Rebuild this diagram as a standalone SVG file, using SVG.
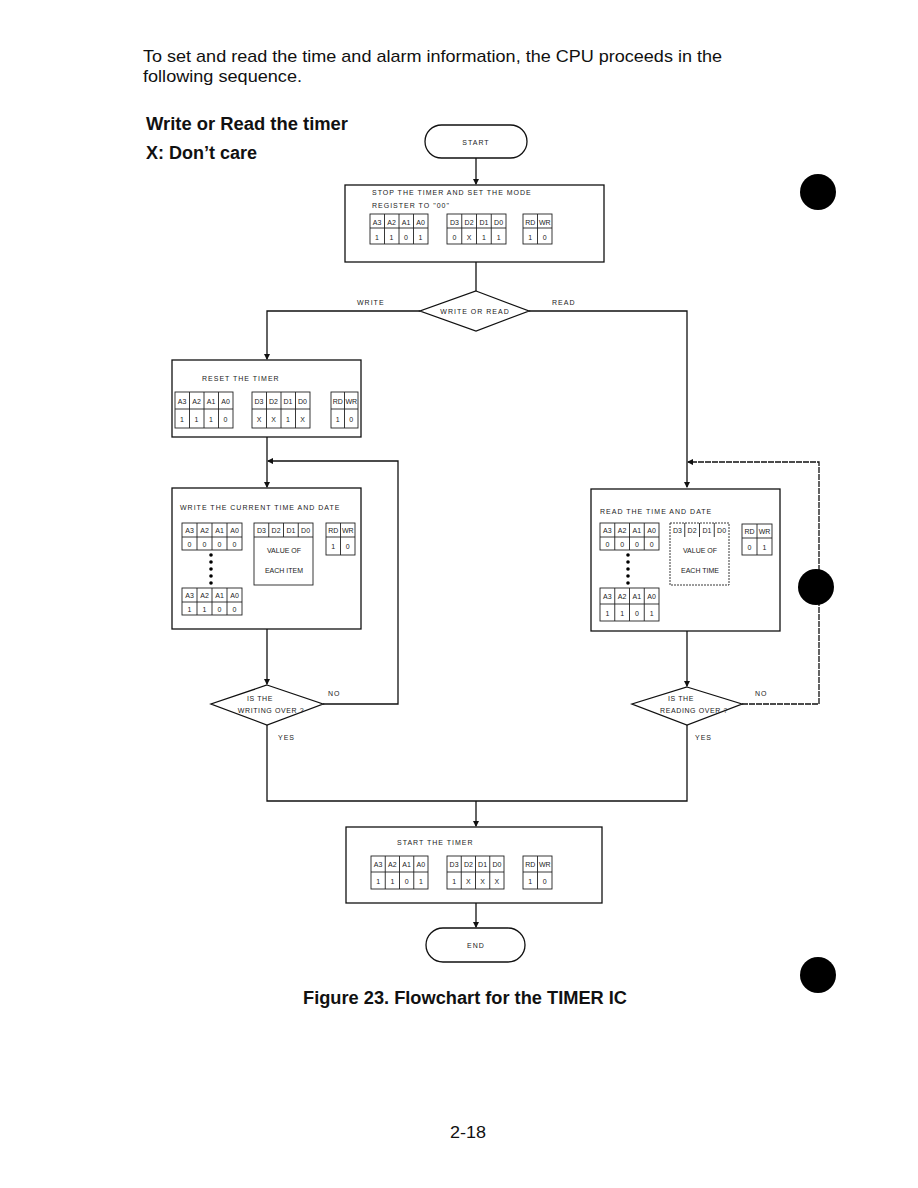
<svg xmlns="http://www.w3.org/2000/svg" width="918" height="1188" viewBox="0 0 918 1188">
<style>
.hd{font-family:"Liberation Sans",Arial,sans-serif;font-size:17px;fill:#111}
.bd{font-family:"Liberation Sans",Arial,sans-serif;font-size:18px;font-weight:bold;fill:#111}
.t{font-family:"Liberation Sans",Arial,sans-serif;font-size:7px;letter-spacing:1px;fill:#222}
.dt{font-family:"Liberation Sans",Arial,sans-serif;font-size:7px;letter-spacing:0.6px;fill:#222;text-anchor:middle}
.c{font-family:"Liberation Sans",Arial,sans-serif;font-size:7px;fill:#222;text-anchor:middle}
.box{fill:#fff;stroke:#111;stroke-width:1.3}
.tb{fill:none;stroke:#222;stroke-width:0.9}
.ln{fill:none;stroke:#111;stroke-width:1.3}
.dot{fill:#000}
</style>
<defs>
<marker id="ar" viewBox="0 0 6 6" refX="5" refY="3" markerWidth="5" markerHeight="5" orient="auto"><path d="M0,0L6,3L0,6z" fill="#111"/></marker>
</defs>
<rect width="918" height="1188" fill="#fff"/>
<text class="hd" x="143" y="62" textLength="579" lengthAdjust="spacingAndGlyphs">To set and read the time and alarm information, the CPU proceeds in the</text>
<text class="hd" x="143" y="82" textLength="159" lengthAdjust="spacingAndGlyphs">following sequence.</text>
<text class="bd" x="146" y="130" textLength="202" lengthAdjust="spacingAndGlyphs">Write or Read the timer</text>
<text class="bd" x="146" y="159" textLength="111" lengthAdjust="spacingAndGlyphs">X: Don’t care</text>

<g id="connectors">
<path class="ln" d="M476,158V184" marker-end="url(#ar)"/>
<path class="ln" d="M476,262V291"/>
<path class="ln" d="M420,311H267V359" marker-end="url(#ar)"/>
<path class="ln" d="M529,311H687V487" marker-end="url(#ar)"/>
<path class="ln" d="M267,437V487" marker-end="url(#ar)"/>
<path class="ln" d="M323,704H398V461H268" marker-end="url(#ar)"/>
<path class="ln" d="M267,629V684" marker-end="url(#ar)"/>
<path class="ln" d="M742,704H819V462H688" marker-end="url(#ar)" stroke-dasharray="6,1"/>
<path class="ln" d="M687,631V686" marker-end="url(#ar)"/>
<path class="ln" d="M267,725V801H687V725"/>
<path class="ln" d="M476,801V826" marker-end="url(#ar)"/>
<path class="ln" d="M476,903V927" marker-end="url(#ar)"/>
<text class="t" x="357" y="305">WRITE</text>
<text class="t" x="552" y="305">READ</text>
<text class="t" x="328" y="696">NO</text>
<text class="t" x="278" y="740">YES</text>
<text class="t" x="755" y="696">NO</text>
<text class="t" x="695" y="740">YES</text>
</g>

<g id="start">
<rect class="box" x="425" y="125" width="102" height="33" rx="16.5"/>
<text class="t" x="476" y="145" text-anchor="middle">START</text>
</g>

<g id="stop-timer">
<rect class="box" x="345" y="185" width="259" height="77"/>
<text class="t" x="372" y="195">STOP THE TIMER AND SET THE MODE</text>
<text class="t" x="372" y="208">REGISTER TO "00"</text>
<rect class="tb" x="370" y="214" width="58" height="30"/><path class="tb" d="M370,228H428M384.5,214V244M399,214V244M413.5,214V244"/>
<text class="c" y="225"><tspan x="377">A3</tspan><tspan x="391.5">A2</tspan><tspan x="406">A1</tspan><tspan x="420.5">A0</tspan></text>
<text class="c" y="240"><tspan x="377">1</tspan><tspan x="391.5">1</tspan><tspan x="406">0</tspan><tspan x="420.5">1</tspan></text>
<rect class="tb" x="447" y="214" width="59" height="30"/><path class="tb" d="M447,228H506M461.75,214V244M476.5,214V244M491.25,214V244"/>
<text class="c" y="225"><tspan x="454.4">D3</tspan><tspan x="469.1">D2</tspan><tspan x="483.9">D1</tspan><tspan x="498.6">D0</tspan></text>
<text class="c" y="240"><tspan x="454.4">0</tspan><tspan x="469.1">X</tspan><tspan x="483.9">1</tspan><tspan x="498.6">1</tspan></text>
<rect class="tb" x="523" y="214" width="29" height="30"/><path class="tb" d="M523,228H552M537.5,214V244"/>
<text class="c" y="225"><tspan x="530.2">RD</tspan><tspan x="544.8">WR</tspan></text>
<text class="c" y="240"><tspan x="530.2">1</tspan><tspan x="544.8">0</tspan></text>
</g>

<g id="decision-write-read">
<polygon class="box" points="476,291 529,311 476,331 420,311"/>
<text class="t" x="475" y="314" text-anchor="middle">WRITE OR READ</text>
</g>

<g id="reset-timer">
<rect class="box" x="172" y="360" width="189" height="77"/>
<text class="t" x="202" y="381">RESET THE TIMER</text>
<rect class="tb" x="175" y="392" width="58" height="36"/><path class="tb" d="M175,409H233M189.5,392V428M204,392V428M218.5,392V428"/>
<text class="c" y="404"><tspan x="182">A3</tspan><tspan x="196.5">A2</tspan><tspan x="211">A1</tspan><tspan x="225.5">A0</tspan></text>
<text class="c" y="422"><tspan x="182">1</tspan><tspan x="196.5">1</tspan><tspan x="211">1</tspan><tspan x="225.5">0</tspan></text>
<rect class="tb" x="252" y="392" width="58" height="36"/><path class="tb" d="M252,409H310M266.5,392V428M281,392V428M295.5,392V428"/>
<text class="c" y="404"><tspan x="259">D3</tspan><tspan x="273.5">D2</tspan><tspan x="288">D1</tspan><tspan x="302.5">D0</tspan></text>
<text class="c" y="422"><tspan x="259">X</tspan><tspan x="273.5">X</tspan><tspan x="288">1</tspan><tspan x="302.5">X</tspan></text>
<rect class="tb" x="331" y="392" width="27" height="36"/><path class="tb" d="M331,409H358M344.5,392V428"/>
<text class="c" y="404"><tspan x="337.7">RD</tspan><tspan x="351.3">WR</tspan></text>
<text class="c" y="422"><tspan x="337.7">1</tspan><tspan x="351.3">0</tspan></text>
</g>

<g id="write-time">
<rect class="box" x="172" y="488" width="189" height="141"/>
<text class="t" x="180" y="510">WRITE THE CURRENT TIME AND DATE</text>
<rect class="tb" x="182" y="523" width="60" height="27"/><path class="tb" d="M182,537H242M197,523V550M212,523V550M227,523V550"/>
<text class="c" y="533"><tspan x="189.5">A3</tspan><tspan x="204.5">A2</tspan><tspan x="219.5">A1</tspan><tspan x="234.5">A0</tspan></text>
<text class="c" y="547"><tspan x="189.5">0</tspan><tspan x="204.5">0</tspan><tspan x="219.5">0</tspan><tspan x="234.5">0</tspan></text>
<circle class="dot" cx="211" cy="555" r="1.8"/><circle class="dot" cx="211" cy="562" r="1.8"/><circle class="dot" cx="211" cy="569" r="1.8"/><circle class="dot" cx="211" cy="576" r="1.8"/><circle class="dot" cx="211" cy="583" r="1.8"/>
<rect class="tb" x="182" y="588" width="60" height="27"/><path class="tb" d="M182,602H242M197,588V615M212,588V615M227,588V615"/>
<text class="c" y="598"><tspan x="189.5">A3</tspan><tspan x="204.5">A2</tspan><tspan x="219.5">A1</tspan><tspan x="234.5">A0</tspan></text>
<text class="c" y="612"><tspan x="189.5">1</tspan><tspan x="204.5">1</tspan><tspan x="219.5">0</tspan><tspan x="234.5">0</tspan></text>
<rect class="tb" x="254" y="523" width="59" height="62"/><path class="tb" d="M254,537H313M268.75,523V537M283.5,523V537M298.25,523V537"/>
<text class="c" y="533"><tspan x="261.4">D3</tspan><tspan x="276.1">D2</tspan><tspan x="290.9">D1</tspan><tspan x="305.6">D0</tspan></text>
<text class="c" x="284" y="553">VALUE OF</text>
<text class="c" x="284" y="573">EACH ITEM</text>
<rect class="tb" x="326" y="523" width="29" height="32"/><path class="tb" d="M326,537H355M340.5,523V555"/>
<text class="c" y="533"><tspan x="333.2">RD</tspan><tspan x="347.8">WR</tspan></text>
<text class="c" y="549"><tspan x="333.2">1</tspan><tspan x="347.8">0</tspan></text>
</g>

<g id="read-time">
<rect class="box" x="591" y="489" width="189" height="142"/>
<text class="t" x="600" y="514">READ THE TIME AND DATE</text>
<rect class="tb" x="600" y="523" width="59" height="27"/><path class="tb" d="M600,537H659M614.75,523V550M629.5,523V550M644.25,523V550"/>
<text class="c" y="533"><tspan x="607.4">A3</tspan><tspan x="622.1">A2</tspan><tspan x="636.9">A1</tspan><tspan x="651.6">A0</tspan></text>
<text class="c" y="547"><tspan x="607.4">0</tspan><tspan x="622.1">0</tspan><tspan x="636.9">0</tspan><tspan x="651.6">0</tspan></text>
<circle class="dot" cx="628" cy="555" r="1.8"/><circle class="dot" cx="628" cy="562" r="1.8"/><circle class="dot" cx="628" cy="569" r="1.8"/><circle class="dot" cx="628" cy="576" r="1.8"/><circle class="dot" cx="628" cy="583" r="1.8"/>
<rect class="tb" x="600" y="588" width="59" height="33"/><path class="tb" d="M600,604H659M614.75,588V621M629.5,588V621M644.25,588V621"/>
<text class="c" y="599"><tspan x="607.4">A3</tspan><tspan x="622.1">A2</tspan><tspan x="636.9">A1</tspan><tspan x="651.6">A0</tspan></text>
<text class="c" y="616"><tspan x="607.4">1</tspan><tspan x="622.1">1</tspan><tspan x="636.9">0</tspan><tspan x="651.6">1</tspan></text>
<rect class="tb" x="670" y="523" width="59" height="62" stroke-dasharray="2,1"/><path class="tb" d="M684.75,523V537M699.5,523V537M714.25,523V537"/>
<text class="c" y="533"><tspan x="677.4">D3</tspan><tspan x="692.1">D2</tspan><tspan x="706.9">D1</tspan><tspan x="721.6">D0</tspan></text>
<text class="c" x="700" y="553">VALUE OF</text>
<text class="c" x="700" y="573">EACH TIME</text>
<rect class="tb" x="742" y="524" width="30" height="31"/><path class="tb" d="M742,538H772M757,524V555"/>
<text class="c" y="534"><tspan x="749.5">RD</tspan><tspan x="764.5">WR</tspan></text>
<text class="c" y="550"><tspan x="749.5">0</tspan><tspan x="764.5">1</tspan></text>
</g>

<g id="decision-writing-over">
<polygon class="box" points="267,685 323,704 267,725 211,704"/>
<text class="dt" x="260" y="701">IS THE</text>
<text class="dt" x="271" y="713">WRITING OVER ?</text>
</g>

<g id="decision-reading-over">
<polygon class="box" points="687,687 742,704 687,725 632,704"/>
<text class="dt" x="681" y="701">IS THE</text>
<text class="dt" x="694" y="713">READING OVER ?</text>
</g>

<g id="start-timer">
<rect class="box" x="346" y="827" width="256" height="76"/>
<text class="t" x="397" y="845">START THE TIMER</text>
<rect class="tb" x="371" y="856" width="57" height="33"/><path class="tb" d="M371,872H428M385.25,856V889M399.5,856V889M413.75,856V889"/>
<text class="c" y="867"><tspan x="378.1">A3</tspan><tspan x="392.4">A2</tspan><tspan x="406.6">A1</tspan><tspan x="420.9">A0</tspan></text>
<text class="c" y="884"><tspan x="378.1">1</tspan><tspan x="392.4">1</tspan><tspan x="406.6">0</tspan><tspan x="420.9">1</tspan></text>
<rect class="tb" x="447" y="856" width="57" height="33"/><path class="tb" d="M447,872H504M461.25,856V889M475.5,856V889M489.75,856V889"/>
<text class="c" y="867"><tspan x="454.1">D3</tspan><tspan x="468.4">D2</tspan><tspan x="482.6">D1</tspan><tspan x="496.9">D0</tspan></text>
<text class="c" y="884"><tspan x="454.1">1</tspan><tspan x="468.4">X</tspan><tspan x="482.6">X</tspan><tspan x="496.9">X</tspan></text>
<rect class="tb" x="523" y="856" width="29" height="33"/><path class="tb" d="M523,872H552M537.5,856V889"/>
<text class="c" y="867"><tspan x="530.2">RD</tspan><tspan x="544.8">WR</tspan></text>
<text class="c" y="884"><tspan x="530.2">1</tspan><tspan x="544.8">0</tspan></text>
</g>

<g id="end">
<rect class="box" x="426" y="928" width="99" height="34" rx="17"/>
<text class="t" x="476" y="948" text-anchor="middle">END</text>
</g>

<circle cx="818" cy="192" r="18" fill="#000"/>
<circle cx="816" cy="587" r="18" fill="#000"/>
<circle cx="818" cy="975" r="18" fill="#000"/>

<text class="bd" x="303" y="1004" textLength="324" lengthAdjust="spacingAndGlyphs">Figure 23. Flowchart for the TIMER IC</text>
<text class="hd" x="450" y="1138" font-size="18" textLength="36" lengthAdjust="spacingAndGlyphs">2-18</text>
</svg>
